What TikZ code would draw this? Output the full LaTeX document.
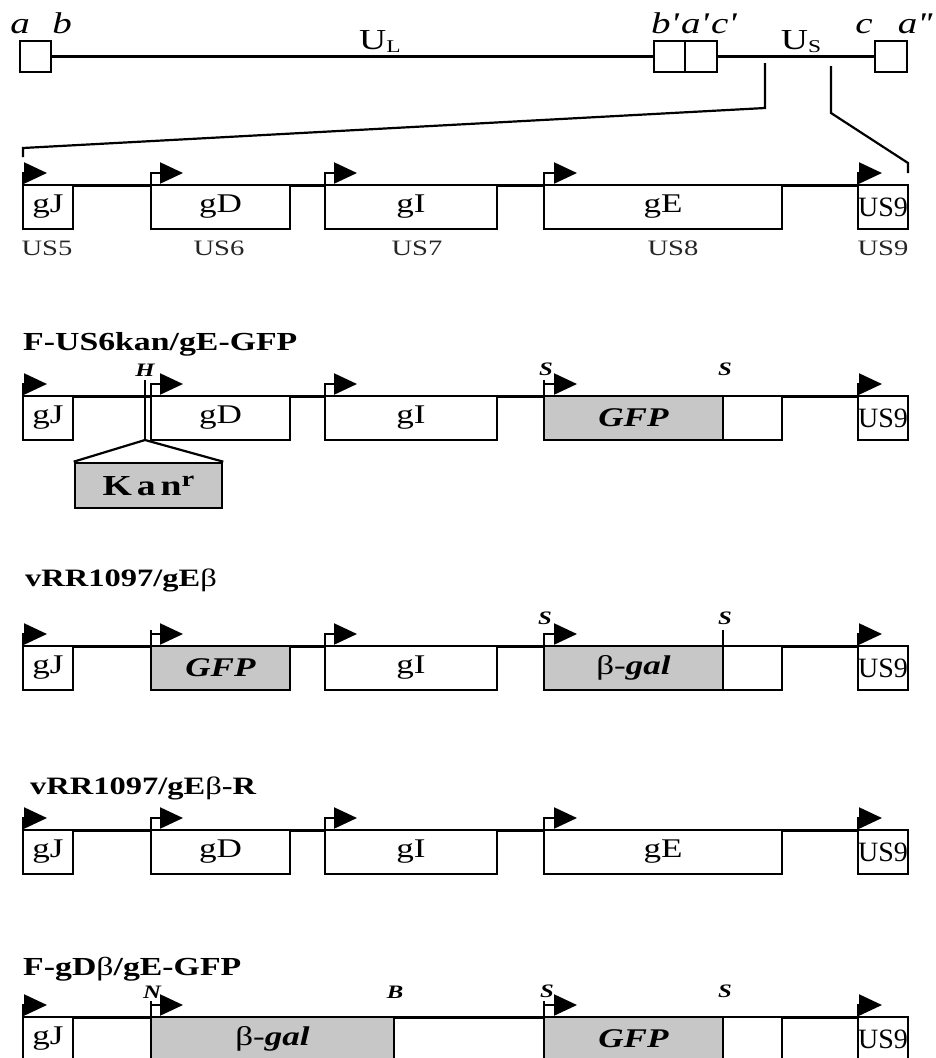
\documentclass[tikz,border=0pt]{standalone}
\usepackage{fontspec}
\setmainfont{Liberation Serif}[FakeStretch=1.3]
\newfontfamily\narrowserif{Liberation Serif}
\usetikzlibrary{arrows.meta}
\tikzset{
  gl/.style={line width=3pt},
  tl/.style={line width=2.2pt},
  gbox/.style={draw, line width=2.7pt, fill=white, inner sep=0pt, outer sep=0pt,
    font=\fontsize{27}{27}\selectfont},
  shade/.style={fill=black!22},
  tbox/.style={draw, line width=2.6pt, fill=white, inner sep=0pt, outer sep=0pt},
  prom/.style={line width=2.2pt, -{Triangle[length=23pt,width=21pt]}},
  site/.style={line width=2.4pt},
  sitelab/.style={font=\fontsize{19}{19}\selectfont\bfseries\itshape, inner sep=0pt},
  rowtitle/.style={font=\fontsize{26}{26}\selectfont\bfseries, anchor=base west, inner sep=0pt},
  uslab/.style={font=\fontsize{22}{22}\selectfont, text=black!85, inner sep=0pt},
  toplab/.style={font=\fontsize{30}{30}\selectfont\itshape, anchor=base, inner sep=0pt},
  ulab/.style={font=\fontsize{29}{29}\selectfont, anchor=base, inner sep=0pt},
}
\newcommand\gbx[6]{\node[gbox,#5,minimum width={#3pt-#2pt},minimum height=44pt] (#1) at ({(#2+#3)/2},{#4+22}) {#6};}
\newcommand\prm[4]{\coordinate (#1a) at (#2,#3); \coordinate (#1b) at ({#2+#4},{#3-12}); \draw[prom] (#1a) |- (#1b);}
\newcommand\sitemark[5]{\coordinate (#1t) at (#2,{#3-#4}); \coordinate (#1u) at (#2,#3); \draw[site] (#1t) -- (#1u);}
\newcommand\usnine[2]{\node[gbox,minimum width=50pt,minimum height=44pt,font=\narrowserif\fontsize{28}{28}\selectfont] (#1) at (883,{#2+22}) {US9};}
\newcommand\gline[2]{\coordinate (#1s) at (23,#2); \coordinate (#1e) at (908,#2); \draw[gl] (#1s) -- (#1e);}
\begin{document}
\begin{tikzpicture}[x=1pt,y=-1pt]
\useasboundingbox (0,0) rectangle (936,1058);

% ---------- top genome ----------
\node[tbox,minimum width=31pt,minimum height=31pt] (ab) at (35.5,56.5) {};
\node[tbox,minimum width=31pt,minimum height=31pt] (bp) at (669.5,56.5) {};
\node[tbox,minimum width=32pt,minimum height=31pt] (cp) at (701,56.5) {};
\node[tbox,minimum width=32pt,minimum height=31pt] (ca) at (891,56.5) {};
\draw[tl] (ab.east) -- (bp.west);
\draw[tl] (cp.east) -- (ca.west);
\node[toplab] (la) at (20,33) {a};
\node[toplab] (lb) at (62,33) {b};
\node[toplab] (lbp) at (664,33) {b\textquotesingle};
\node[toplab] (lap) at (694,33) {a\textquotesingle};
\node[toplab] (lcp) at (723,33) {c\textquotesingle};
\node[toplab] (lc) at (864,33) {c};
\node[toplab] (lapp) at (914,33) {a\textquotesingle\textquotesingle};
\node[ulab] (ul) at (380,49) {U\raisebox{-3pt}{\fontsize{18}{18}\selectfont L}};
\node[ulab] (us) at (801,49) {U\raisebox{-3pt}{\fontsize{18}{18}\selectfont S}};
% expansion lines
\coordinate (e1) at (765,63); \coordinate (e2) at (765,108);
\coordinate (e3) at (23,148); \coordinate (e4) at (23,157);
\coordinate (f1) at (831,66); \coordinate (f2) at (831,113);
\coordinate (f3) at (908,163); \coordinate (f4) at (908,173);
\draw[tl] (e1) -- (e2) -- (e3) -- (e4);
\draw[tl] (f1) -- (f2) -- (f3) -- (f4);

% ---------- row 0: wild type US region ----------
\gline{r0}{185}
\gbx{r0gJ}{23}{73}{185}{}{gJ}
\gbx{r0gD}{151}{290}{185}{}{gD}
\gbx{r0gI}{325}{497}{185}{}{gI}
\gbx{r0gE}{544}{782}{185}{}{gE}
\usnine{r0us9}{185}
\prm{r0pJ}{23}{185}{24}
\prm{r0pD}{151}{185}{32}
\prm{r0pI}{325}{185}{32}
\prm{r0pE}{544}{185}{33}
\prm{r0p9}{858}{185}{24}
\node[uslab] (u5) at (47,248) {US5};
\node[uslab] (u6) at (219,248) {US6};
\node[uslab] (u7) at (417,248) {US7};
\node[uslab] (u8) at (673,248) {US8};
\node[uslab] (u9) at (883,248) {US9};

% ---------- row 1: F-US6kan/gE-GFP ----------
\node[rowtitle] (t1) at (23,350) {F-US6kan/gE-GFP};
\gline{r1}{396}
\gbx{r1gJ}{23}{73}{396}{}{gJ}
\gbx{r1gD}{151}{290}{396}{}{gD}
\gbx{r1gI}{325}{497}{396}{}{gI}
\gbx{r1gfp}{544}{723}{396}{shade}{\bfseries\itshape GFP}
\gbx{r1rest}{723}{782}{396}{}{}
\usnine{r1us9}{396}
\prm{r1pJ}{23}{396}{24}
\prm{r1pD}{151}{396}{32}
\prm{r1pI}{325}{396}{32}
\prm{r1pE}{544}{396}{33}
\prm{r1p9}{858}{396}{24}
\coordinate (h1) at (145,380); \coordinate (h2) at (145,440);
\draw[site] (h1) -- (h2);
\node[sitelab] (hl) at (145,370) {H};
\sitemark{r1s1}{544}{396}{16}
\sitemark{r1s2}{723}{396}{14}
\node[sitelab] (r1sl1) at (546,369) {S};
\node[sitelab] (r1sl2) at (725,369) {S};
\node[draw, line width=2.6pt, shade, inner sep=0pt, minimum width=147pt, minimum height=45pt,
  font=\fontsize{29}{29}\selectfont\bfseries] (kan) at (148.5,485.5)
  {K\,a\,n\raisebox{9pt}{\fontsize{22}{22}\selectfont r}};
\draw[tl] (h2) -- (kan.north west);
\draw[tl] (h2) -- (kan.north east);

% ---------- row 2: vRR1097/gEbeta ----------
\node[rowtitle,font=\fontsize{25}{25}\selectfont\bfseries] (t2) at (25,586) {vRR1097/gE{\mdseries β}};
\gline{r2}{646}
\gbx{r2gJ}{23}{73}{646}{}{gJ}
\gbx{r2gfp}{151}{290}{646}{shade}{\bfseries\itshape GFP}
\gbx{r2gI}{325}{497}{646}{}{gI}
\gbx{r2bgal}{544}{723}{646}{shade}{β-{\bfseries\itshape gal}}
\gbx{r2rest}{723}{782}{646}{}{}
\usnine{r2us9}{646}
\prm{r2pJ}{23}{646}{24}
\prm{r2pD}{151}{646}{32}
\prm{r2pI}{325}{646}{32}
\prm{r2pE}{544}{646}{33}
\prm{r2p9}{858}{646}{24}
\sitemark{r2n}{151}{646}{16}
\sitemark{r2s1}{544}{646}{16}
\sitemark{r2s2}{723}{646}{16}
\node[sitelab] (r2nl) at (152,622) {N};
\node[sitelab] (r2sl1) at (545,618) {S};
\node[sitelab] (r2sl2) at (725,618) {S};

% ---------- row 3: vRR1097/gEbeta-R ----------
\node[rowtitle,font=\fontsize{25}{25}\selectfont\bfseries] (t3) at (30,794) {vRR1097/gE{\mdseries β}-R};
\gline{r3}{830}
\gbx{r3gJ}{23}{73}{830}{}{gJ}
\gbx{r3gD}{151}{290}{830}{}{gD}
\gbx{r3gI}{325}{497}{830}{}{gI}
\gbx{r3gE}{544}{782}{830}{}{gE}
\usnine{r3us9}{830}
\prm{r3pJ}{23}{830}{24}
\prm{r3pD}{151}{830}{32}
\prm{r3pI}{325}{830}{32}
\prm{r3pE}{544}{830}{33}
\prm{r3p9}{858}{830}{24}

% ---------- row 4: F-gDbeta/gE-GFP ----------
\node[rowtitle] (t4) at (23,975) {F-gD{\mdseries β}/gE-GFP};
\gline{r4}{1017}
\gbx{r4gJ}{23}{73}{1017}{}{gJ}
\gbx{r4bgal}{151}{394}{1017}{shade}{β-{\bfseries\itshape gal}}
\gbx{r4gfp}{544}{723}{1017}{shade}{\bfseries\itshape GFP}
\gbx{r4rest}{723}{782}{1017}{}{}
\usnine{r4us9}{1017}
\prm{r4pJ}{23}{1017}{24}
\prm{r4pD}{151}{1017}{32}
\prm{r4pE}{544}{1017}{33}
\prm{r4p9}{858}{1017}{24}
\sitemark{r4n}{151}{1017}{16}
\sitemark{r4b}{394}{1017}{15}
\sitemark{r4s1}{544}{1017}{16}
\sitemark{r4s2}{723}{1017}{12}
\node[sitelab] (r4nl) at (152,992) {N};
\node[sitelab] (r4bl) at (395,992) {B};
\node[sitelab] (r4sl1) at (547,991) {S};
\node[sitelab] (r4sl2) at (725,991) {S};
\end{tikzpicture}
\end{document}
